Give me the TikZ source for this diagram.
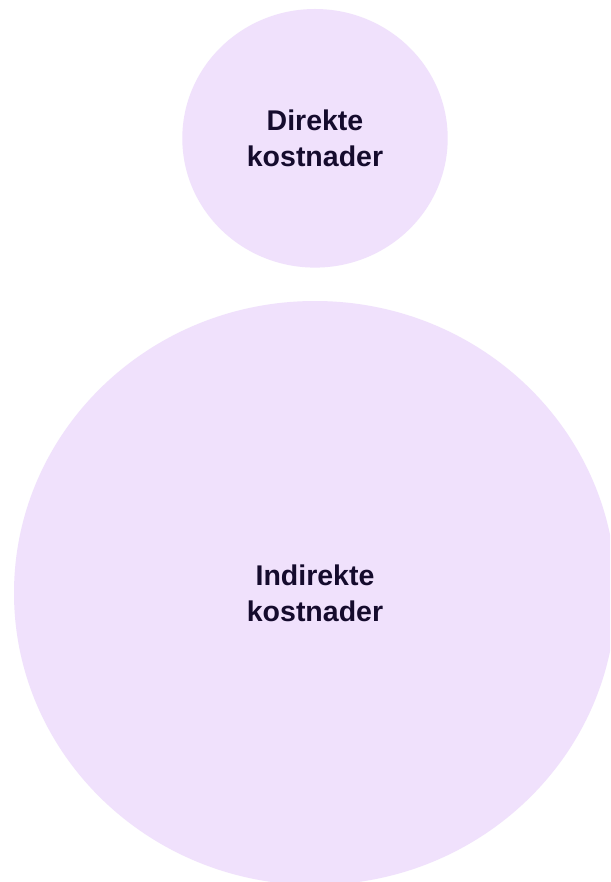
\documentclass[tikz,border=0pt]{standalone}
\usepackage{fontspec}
\setmainfont{Liberation Sans}
\usetikzlibrary{shapes.geometric}
\definecolor{bubble}{HTML}{F0E1FC}
\definecolor{ink}{HTML}{150B2D}
\tikzset{
  bubblenode/.style={ellipse, fill=bubble, draw=none, inner sep=0pt, outer sep=0pt,
    text=ink, align=center, font=\bfseries\fontsize{28.5}{36}\selectfont}
}
\begin{document}
\begin{tikzpicture}[x=1pt,y=-1pt]
\useasboundingbox (0,0) rectangle (610,882);
\clip (0,0) rectangle (610,882);
\fill[white] (0,0) rectangle (610,882);
\node[bubblenode, minimum width=265.4pt, minimum height=258.6pt] (direkte) at (315,138.3) {Direkte\\kostnader};
\node[bubblenode, minimum width=602pt, minimum height=584pt] (indirekte) at (315,593) {Indirekte\\kostnader};
\end{tikzpicture}
\end{document}
